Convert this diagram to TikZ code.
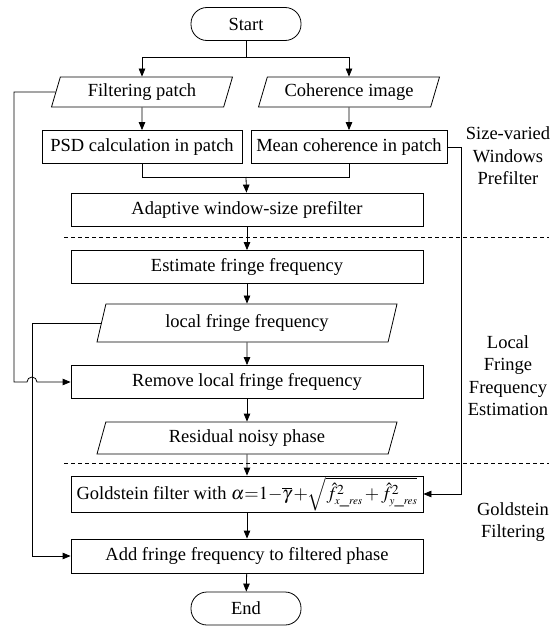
\documentclass[tikz,border=0pt]{standalone}
\usepackage{mathptmx}
\usepackage{fontspec}
\setmainfont{Liberation Serif}
\usetikzlibrary{shapes.geometric,arrows.meta}

\tikzset{
  every node/.style={font=\rmfamily\fontsize{18.5}{22.5}\selectfont},
  proc/.style={draw, rectangle, minimum height=33pt, inner sep=1pt},
  wide/.style={proc, minimum width=352pt},
  io/.style={draw, trapezium, trapezium left angle=67, trapezium right angle=113,
    trapezium stretches body, inner sep=2pt},
  term/.style={draw, rectangle, rounded corners=16pt, minimum width=110pt, minimum height=33pt},
  lbl/.style={align=center},
  arw/.style={-{Triangle[length=8pt,width=6.5pt]}},
  sepline/.style={dashed, dash pattern=on 4pt off 3pt}
}
\newcommand{\resid}[1]{#1\_\mathit{res}}

\begin{document}
\begin{tikzpicture}[x=1pt, y=-1pt, line width=0.8pt]
  \useasboundingbox (0,0) rectangle (549,626);
  % main column
  \node[term] (start) at (246,24) {Start};
  \coordinate (fork) at (246,57);
  \node[io, minimum width=181pt, minimum height=30pt] (patch) at (142,92) {Filtering patch};
  \node[io, minimum width=181pt, minimum height=30pt] (coh) at (349,92) {Coherence image};
  \node[proc, minimum width=200pt] (psd) at (142,147) {PSD calculation in patch};
  \node[proc, minimum width=196pt] (mean) at (349,147) {Mean coherence in patch};
  \coordinate (join) at (246,177);
  \node[wide] (adapt) at (247,209.5) {Adaptive window-size prefilter};
  \node[wide] (est) at (247,267) {Estimate fringe frequency};
  \node[io, minimum width=300pt, minimum height=38pt] (local) at (247,323) {local fringe frequency};
  \node[wide] (remove) at (247,382) {Remove local fringe frequency};
  \node[io, minimum width=300pt, minimum height=32pt] (resid) at (247,438) {Residual noisy phase};
  \node[wide, minimum height=34pt] (gold) at (247,494)
    {Goldstein filter with $\alpha{=}1{-}\overline{\gamma}\,{+}\sqrt{\hat{f}^{2}_{\scriptscriptstyle\resid{x}}\,{+}\,\hat{f}^{2}_{\scriptscriptstyle\resid{y}}}$};
  \node[wide, minimum height=34pt] (add) at (247,556) {Add fringe frequency to filtered phase};
  \node[term] (end) at (246,608.5) {End};
  % side labels
  \node[lbl] (lblA) at (508,156) {Size-varied\\Windows\\Prefilter};
  \node[lbl] (lblB) at (508,375.5) {Local\\Fringe\\Frequency\\Estimation};
  \node[lbl] (lblC) at (513,522) {Goldstein\\Filtering};
  % bus lines
  \coordinate (busA) at (14,0);
  \coordinate (busB) at (32,0);
  \coordinate (busC) at (461,0);
  % connectors
  \draw (start) -- (fork);
  \draw[arw] (fork) -| (patch);
  \draw[arw] (fork) -| (coh);
  \draw[arw] (patch) -- (psd);
  \draw[arw] (coh) -- (mean);
  \draw (psd) |- (join);
  \draw (mean) |- (join);
  \draw[arw] (join) -- (adapt);
  \draw[arw] (adapt) -- (est);
  \draw[arw] (est) -- (local);
  \draw[arw] (local) -- (remove);
  \draw[arw] (remove) -- (resid);
  \draw[arw] (resid) -- (gold);
  \draw[arw] (gold) -- (add);
  \draw[arw] (add) -- (end);
  \draw[arw] (patch.west) -| (busA |- remove.west)
    -- ([xshift=-5pt]busB |- remove.west) arc[start angle=180, end angle=0, radius=5pt]
    -- (remove.west);
  \draw[arw] (local.west) -| (busB |- add.west) -- (add.west);
  \draw[arw] (mean.east) -- (busC |- mean.east) |- (gold.east);
  % separators
  \draw[sepline] (64,237) -- (549,237);
  \draw[sepline] (64,463) -- (549,463);
\end{tikzpicture}
\end{document}
